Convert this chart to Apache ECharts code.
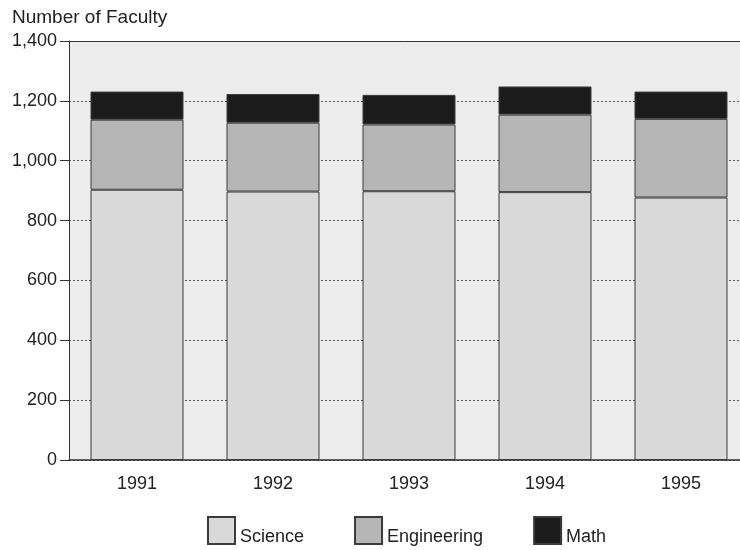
<!DOCTYPE html>
<html>
<head>
<meta charset="utf-8">
<script src="https://cdn.jsdelivr.net/npm/echarts@6/dist/echarts.min.js"></script>
<style>
html,body{margin:0;padding:0;background:#fff;}
#chart{width:740px;height:550px;}
</style>
</head>
<body>
<div id="chart"></div>
<script>
const years = ['1991', '1992', '1993', '1994', '1995'];
const science = [903, 897, 898, 895, 877];
const engineering = [234, 230, 223, 259, 263];
const math = [94, 96, 99, 94, 91];
const yTicks = [0, 200, 400, 600, 800, 1000, 1200, 1400];

const FONT = '"Liberation Sans", Arial, Helvetica, sans-serif';
const chart = echarts.init(document.getElementById('chart'));
const barBorder = { borderColor: '#3a3a3a', borderWidth: 1 };

chart.setOption({
  animation: false,
  backgroundColor: '#ffffff',
  textStyle: { fontFamily: FONT },
  title: {
    text: 'Number of Faculty',
    left: 12, top: 8, padding: 0,
    textStyle: { fontFamily: FONT, fontSize: 19, fontWeight: 'normal', color: '#222' }
  },
  grid: {
    left: 69, top: 41, width: 680, height: 419,
    outerBoundsMode: 'none', containLabel: false,
    show: true, backgroundColor: '#ececec', borderWidth: 0
  },
  legend: {
    left: 207, top: 516, padding: 0,
    itemWidth: 27, itemHeight: 27, itemGap: 50,
    icon: 'rect',
    formatter: '{t|{name}}',
    textStyle: {
      fontFamily: FONT, fontSize: 18, color: '#222',
      rich: { t: { fontFamily: FONT, fontSize: 18, color: '#222', padding: [14, 0, 0, 0] } }
    },
    data: ['Science', 'Engineering', 'Math']
  },
  xAxis: [{
    type: 'category',
    data: years,
    axisLine: { lineStyle: { color: '#333', width: 1.5 } },
    axisTick: { alignWithLabel: true, length: 6, lineStyle: { color: '#333' } },
    axisLabel: { fontFamily: FONT, fontSize: 18, color: '#222', margin: 15 }
  }, {
    type: 'category',
    data: years,
    position: 'top',
    axisLine: { show: true, lineStyle: { color: '#333', width: 1 } },
    axisTick: { show: false },
    axisLabel: { show: false }
  }],
  yAxis: {
    type: 'value',
    min: yTicks[0], max: yTicks[yTicks.length - 1], interval: 200,
    axisLine: { show: true, lineStyle: { color: '#333', width: 1 } },
    axisTick: { show: true, length: 9, lineStyle: { color: '#333' } },
    axisLabel: {
      fontFamily: FONT, fontSize: 18, color: '#222', margin: 12,
      formatter: v => v.toLocaleString('en-US')
    },
    splitLine: { show: true, lineStyle: { color: '#555', type: [2, 2], width: 1 } }
  },
  series: [
    { name: 'Science', type: 'bar', stack: 'f', data: science, barWidth: 93,
      itemStyle: Object.assign({ color: '#d9d9d9' }, barBorder) },
    { name: 'Engineering', type: 'bar', stack: 'f', data: engineering, barWidth: 93,
      itemStyle: Object.assign({ color: '#b6b6b6' }, barBorder) },
    { name: 'Math', type: 'bar', stack: 'f', data: math, barWidth: 93,
      itemStyle: Object.assign({ color: '#1c1c1c' }, barBorder) }
  ]
});
</script>
</body>
</html>
